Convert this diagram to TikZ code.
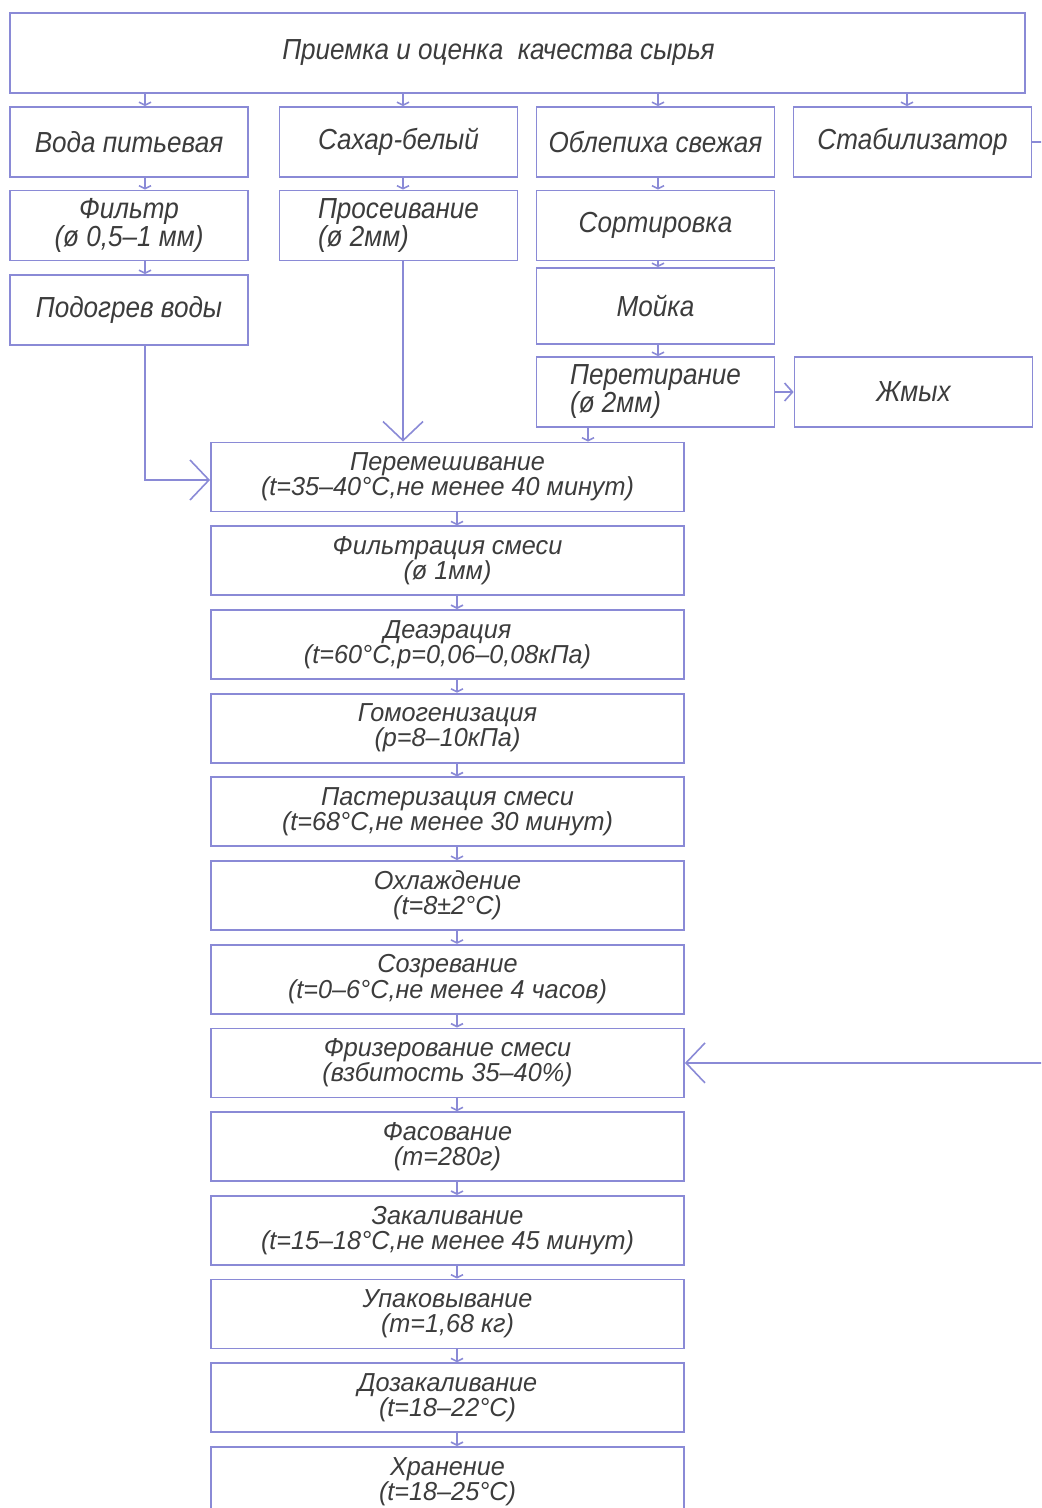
\documentclass[tikz,border=0pt]{standalone}
\usepackage{fontspec}
\setmainfont[FakeStretch=0.9]{Liberation Sans}
\newfontfamily\stagefont[FakeStretch=0.97]{Liberation Sans}
\usetikzlibrary{positioning, arrows.meta}
\definecolor{frame}{HTML}{8A8AD6}
\definecolor{ink}{HTML}{3C3C3C}

\begin{document}
\begin{tikzpicture}[
    x=0.5pt, y=-0.5pt,
    node distance=6.45pt and 10pt,
    box/.style={draw=frame, line width=0.9pt, minimum width=119pt, minimum height=35pt,
                inner sep=2pt, text=ink, align=center,
                font=\itshape\fontsize{14.5}{14}\selectfont},
    stage/.style={box, minimum width=236.5pt, minimum height=34.5pt,
                  font=\stagefont\itshape\fontsize{13}{12.6}\selectfont},
    tick/.style={draw=frame, line width=0.8pt, -{Straight Barb[length=1.5pt, width=6pt]}},
    feed/.style={draw=frame, line width=0.8pt, -{Straight Barb[length=9.5pt, width=20pt]}},
    side/.style={draw=frame, line width=0.8pt, -{Straight Barb[length=4pt, width=9pt]}},
]
\clip (0,0) rectangle (1041,1508);

% raw materials
\node[box, minimum width=507.5pt, minimum height=40pt] (priemka) at (517.5,53)
    {Приемка и оценка \ качества сырья\hspace*{19pt}};
\node[box] (voda)  at (129,142)   {Вода питьевая};
\node[box] (sahar) at (398.5,142) {Сахар-белый};
\node[box] (oblep) at (655.5,142) {Облепиха свежая};
\node[box] (stab)  at (912.5,142) {Стабилизатор};

\node[box] (filtr)   at (129,225.5)   {Фильтр\\(ø 0,5–1 мм)};
\node[box, align=left] (proseiv) at (398.5,225.5) {Просеивание\\(ø 2мм)};
\node[box] (sort)    at (655.5,225.5) {Сортировка};
\node[box] (podogrev) at (129,310)    {Подогрев воды};
\node[box, minimum height=38pt] (moika) at (655.5,306) {Мойка};
\node[box, align=left] (peretir) at (655.5,392) {Перетирание\\(ø 2мм)};
\node[box] (zhmyh)   at (913.5,392)   {Жмых};

% main line
\node[stage] (peremesh) at (447.5,477) {Перемешивание\\(t=35–40°С,не менее 40 минут)};
\node[stage, below=of peremesh] (filtrac) {Фильтрация смеси\\(ø 1мм)};
\node[stage, below=of filtrac] (deaer) {Деаэрация\\(t=60°С,р=0,06–0,08кПа)};
\node[stage, below=of deaer] (gomog) {Гомогенизация\\(р=8–10кПа)};
\node[stage, below=of gomog] (paster) {Пастеризация смеси\\(t=68°С,не менее 30 минут)};
\node[stage, below=of paster] (ohlazh) {Охлаждение\\(t=8±2°С)};
\node[stage, below=of ohlazh] (sozrev) {Созревание\\(t=0–6°С,не менее 4 часов)};
\node[stage, below=of sozrev] (frizer) {Фризерование смеси\\(взбитость 35–40\%)};
\node[stage, below=of frizer] (fasov) {Фасование\\(m=280г)};
\node[stage, below=of fasov] (zakal) {Закаливание\\(t=15–18°С,не менее 45 минут)};
\node[stage, below=of zakal] (upak) {Упаковывание\\(m=1,68 кг)};
\node[stage, below=of upak] (dozakal) {Дозакаливание\\(t=18–22°С)};
\node[stage, below=of dozakal] (hranen) {Хранение\\(t=18–25°С)};

\coordinate (c1) at (145,0);
\coordinate (c2) at (403,0);
\coordinate (c3) at (658,0);
\coordinate (c4) at (907,0);
\coordinate (cp) at (588,0);
\coordinate (cm) at (457,0);
\coordinate (rim) at (1062,142);

\foreach \a/\b/\c in {priemka/voda/c1, priemka/sahar/c2, priemka/oblep/c3, priemka/stab/c4,
                      voda/filtr/c1, filtr/podogrev/c1, sahar/proseiv/c2,
                      oblep/sort/c3, sort/moika/c3, moika/peretir/c3, peretir/peremesh/cp}
  \draw[tick] (\a.south -| \c) -- (\b.north -| \c);

\foreach \a/\b in {peremesh/filtrac, filtrac/deaer, deaer/gomog, gomog/paster,
                   paster/ohlazh, ohlazh/sozrev, sozrev/frizer, frizer/fasov,
                   fasov/zakal, zakal/upak, upak/dozakal, dozakal/hranen}
  \draw[tick] (\a.south -| cm) -- (\b.north -| cm);

\draw[feed] (proseiv.south -| c2) -- (peremesh.north -| c2);
\draw[feed] (podogrev.south -| c1) |- ([yshift=-1.5pt]peremesh.west);
\draw[side] (peretir) -- (zhmyh);
% stabilizer goes in at freezing
\draw[feed] (stab.east) -- (rim) |- (frizer.east);

\end{tikzpicture}
\end{document}
